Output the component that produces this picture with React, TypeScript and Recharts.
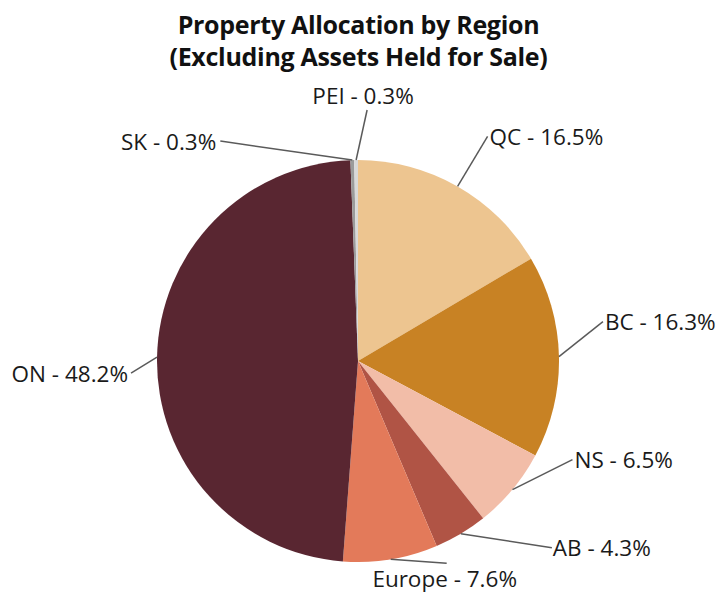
import React from 'react';
import { PieChart, Pie, Cell } from 'recharts';

const regions = ['QC', 'BC', 'NS', 'AB', 'Europe', 'ON', 'SK', 'PEI'];
const shares = [16.5, 16.3, 6.5, 4.3, 7.6, 48.2, 0.3, 0.3];
const sliceColors = ['#EDC590', '#C88224', '#F2BDA8', '#B05445', '#E37A5A', '#592631', '#9B9B9B', '#D9D9D9'];

// leader line end relative to the slice edge point, and where the text sits
const labelLayout = [
  { dx: 30, dy: -50, anchor: 'start', tx: 2, ty: 0 },
  { dx: 44, dy: -35, anchor: 'start', tx: 2, ty: 0 },
  { dx: 60, dy: -30, anchor: 'start', tx: 2, ty: 0 },
  { dx: 91, dy: 14, anchor: 'start', tx: 1, ty: 0 },
  { dx: 56, dy: 4, anchor: 'middle', tx: -2, ty: 15 },
  { dx: -26, dy: 16, anchor: 'end', tx: -3, ty: 0 },
  { dx: -132, dy: -19, anchor: 'end', tx: -4, ty: 0 },
  { dx: 11, dy: -50, anchor: 'middle', tx: -4, ty: -15 },
];

const data = regions.map((name, i) => ({ name, value: shares[i] }));
const RAD = Math.PI / 180;
const FONT = '"Open Sans", Lato, sans-serif';

const renderLabel = (props: any) => {
  const { cx, cy, midAngle, outerRadius, index } = props;
  const x0 = cx + outerRadius * Math.cos(-midAngle * RAD);
  const y0 = cy + outerRadius * Math.sin(-midAngle * RAD);
  const l = labelLayout[index];
  const x1 = x0 + l.dx;
  const y1 = y0 + l.dy;
  return (
    <g key={`lbl-${index}`}>
      <line x1={x0} y1={y0} x2={x1} y2={y1} stroke="#5a5a5a" strokeWidth={1.5} />
      <text
        x={x1 + l.tx}
        y={y1 + l.ty}
        textAnchor={l.anchor}
        dominantBaseline="central"
        fontSize={22.5}
        fontFamily={FONT}
        fill="#1a1a1a"
      >
        {`${regions[index]} - ${shares[index].toFixed(1)}%`}
      </text>
    </g>
  );
};

export default function App() {
  return (
    <div style={{ position: 'absolute', left: 0, top: 0, width: 717, height: 592, background: '#fff' }}>
      <div
        style={{
          position: 'absolute',
          left: 0,
          top: 8,
          width: 717,
          textAlign: 'center',
          fontFamily: FONT,
          fontWeight: 700,
          fontSize: 25,
          lineHeight: '32px',
          letterSpacing: -0.3,
          color: '#111',
        }}
      >
        Property Allocation by Region
        <br />
        (Excluding Assets Held for Sale)
      </div>
      <PieChart
        width={717}
        height={592}
        margin={{ top: 0, right: 0, bottom: 0, left: 0 }}
        style={{ position: 'absolute', left: 0, top: 0 }}
      >
        <Pie
          data={data}
          dataKey="value"
          nameKey="name"
          cx={358}
          cy={361}
          outerRadius={201}
          startAngle={90}
          endAngle={-270}
          stroke="none"
          label={renderLabel}
          labelLine={false}
          isAnimationActive={false}
        >
          {data.map((d, i) => (
            <Cell key={d.name} fill={sliceColors[i]} />
          ))}
        </Pie>
      </PieChart>
    </div>
  );
}
